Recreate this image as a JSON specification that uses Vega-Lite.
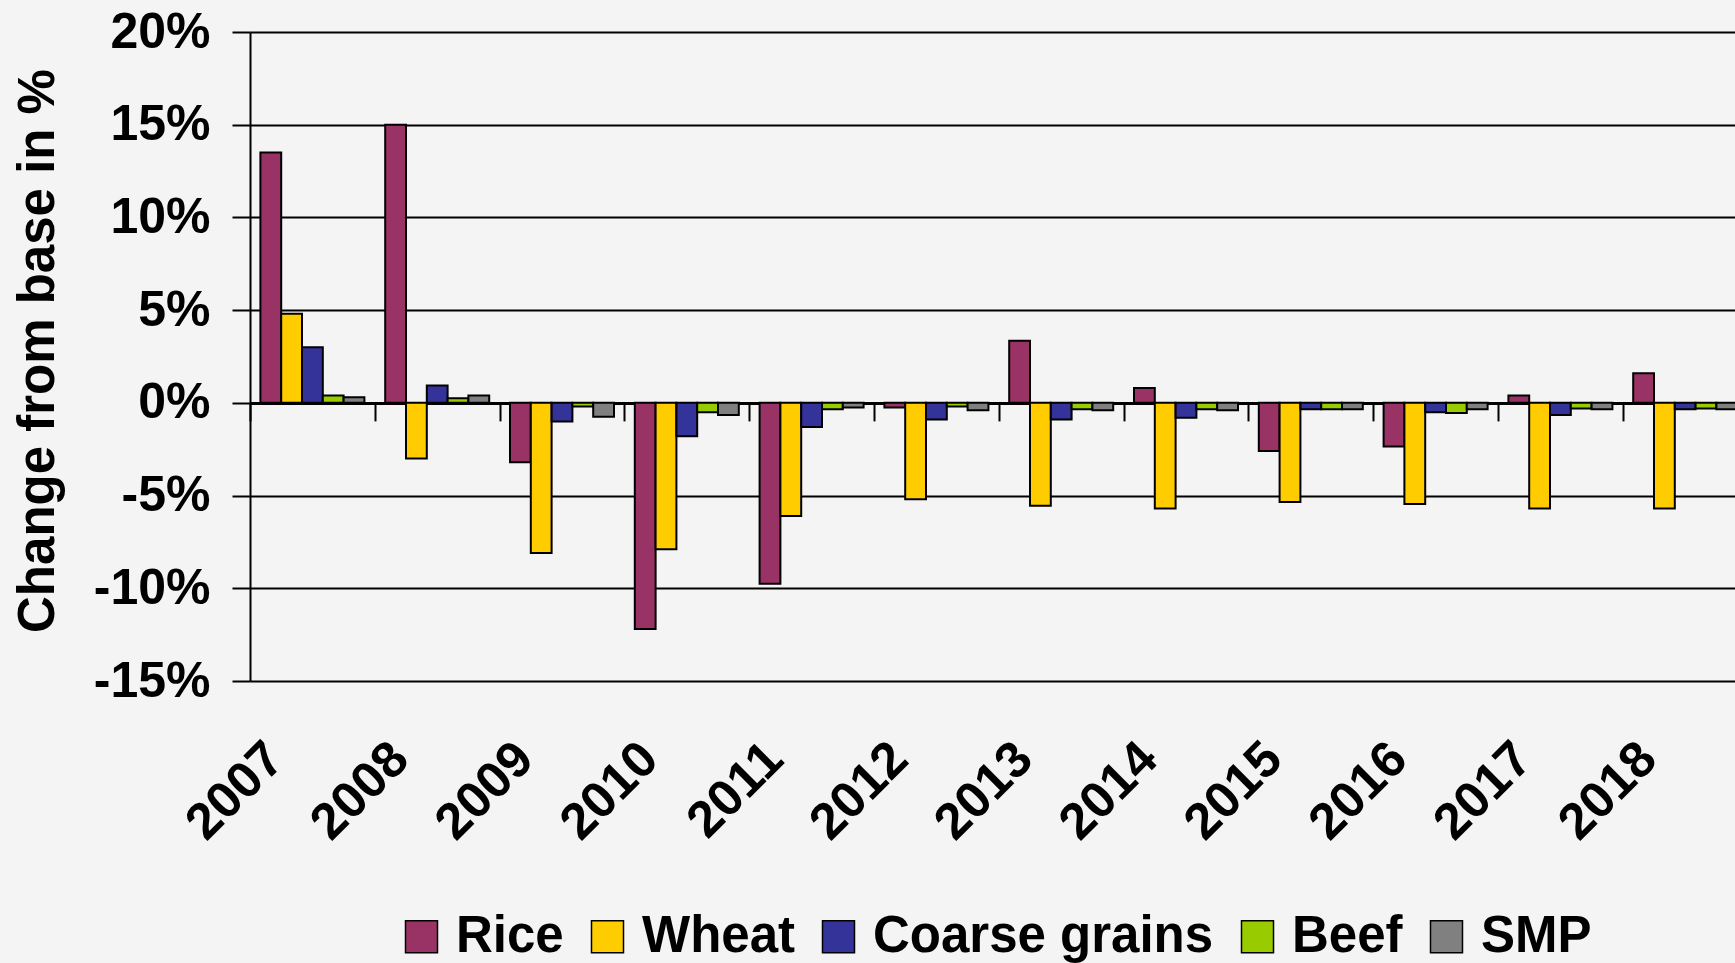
{
  "$schema": "https://vega.github.io/schema/vega-lite/v6.json",
  "width": 1485,
  "height": 649,
  "autosize": {"type": "none"},
  "padding": {"left": 250, "top": 32, "right": 0, "bottom": 282},
  "background": "#f4f4f4",
  "config": {"view": {"stroke": null}, "font": "Liberation Sans"},
  "data": {"values": [
    {"year": "2007", "series": "Rice", "value": 13.5},
    {"year": "2007", "series": "Wheat", "value": 4.8},
    {"year": "2007", "series": "Coarse grains", "value": 3.0},
    {"year": "2007", "series": "Beef", "value": 0.4},
    {"year": "2007", "series": "SMP", "value": 0.3},
    {"year": "2008", "series": "Rice", "value": 15.0},
    {"year": "2008", "series": "Wheat", "value": -3.0},
    {"year": "2008", "series": "Coarse grains", "value": 0.93},
    {"year": "2008", "series": "Beef", "value": 0.25},
    {"year": "2008", "series": "SMP", "value": 0.4},
    {"year": "2009", "series": "Rice", "value": -3.2},
    {"year": "2009", "series": "Wheat", "value": -8.1},
    {"year": "2009", "series": "Coarse grains", "value": -1.0},
    {"year": "2009", "series": "Beef", "value": -0.2},
    {"year": "2009", "series": "SMP", "value": -0.75},
    {"year": "2010", "series": "Rice", "value": -12.2},
    {"year": "2010", "series": "Wheat", "value": -7.9},
    {"year": "2010", "series": "Coarse grains", "value": -1.8},
    {"year": "2010", "series": "Beef", "value": -0.5},
    {"year": "2010", "series": "SMP", "value": -0.65},
    {"year": "2011", "series": "Rice", "value": -9.75},
    {"year": "2011", "series": "Wheat", "value": -6.1},
    {"year": "2011", "series": "Coarse grains", "value": -1.3},
    {"year": "2011", "series": "Beef", "value": -0.35},
    {"year": "2011", "series": "SMP", "value": -0.25},
    {"year": "2012", "series": "Rice", "value": -0.25},
    {"year": "2012", "series": "Wheat", "value": -5.2},
    {"year": "2012", "series": "Coarse grains", "value": -0.9},
    {"year": "2012", "series": "Beef", "value": -0.2},
    {"year": "2012", "series": "SMP", "value": -0.4},
    {"year": "2013", "series": "Rice", "value": 3.35},
    {"year": "2013", "series": "Wheat", "value": -5.55},
    {"year": "2013", "series": "Coarse grains", "value": -0.9},
    {"year": "2013", "series": "Beef", "value": -0.35},
    {"year": "2013", "series": "SMP", "value": -0.4},
    {"year": "2014", "series": "Rice", "value": 0.8},
    {"year": "2014", "series": "Wheat", "value": -5.7},
    {"year": "2014", "series": "Coarse grains", "value": -0.8},
    {"year": "2014", "series": "Beef", "value": -0.35},
    {"year": "2014", "series": "SMP", "value": -0.4},
    {"year": "2015", "series": "Rice", "value": -2.6},
    {"year": "2015", "series": "Wheat", "value": -5.35},
    {"year": "2015", "series": "Coarse grains", "value": -0.35},
    {"year": "2015", "series": "Beef", "value": -0.35},
    {"year": "2015", "series": "SMP", "value": -0.35},
    {"year": "2016", "series": "Rice", "value": -2.35},
    {"year": "2016", "series": "Wheat", "value": -5.45},
    {"year": "2016", "series": "Coarse grains", "value": -0.5},
    {"year": "2016", "series": "Beef", "value": -0.55},
    {"year": "2016", "series": "SMP", "value": -0.35},
    {"year": "2017", "series": "Rice", "value": 0.4},
    {"year": "2017", "series": "Wheat", "value": -5.7},
    {"year": "2017", "series": "Coarse grains", "value": -0.65},
    {"year": "2017", "series": "Beef", "value": -0.3},
    {"year": "2017", "series": "SMP", "value": -0.35},
    {"year": "2018", "series": "Rice", "value": 1.6},
    {"year": "2018", "series": "Wheat", "value": -5.7},
    {"year": "2018", "series": "Coarse grains", "value": -0.35},
    {"year": "2018", "series": "Beef", "value": -0.3},
    {"year": "2018", "series": "SMP", "value": -0.35}
  ]},
  "mark": {"type": "bar", "stroke": "black", "strokeWidth": 2},
  "encoding": {
    "x": {
      "field": "year", "type": "nominal",
      "scale": {"range": [0, 1497.6], "paddingInner": 0, "paddingOuter": 0},
      "axis": {
        "title": null, "orient": "bottom", "offset": -278.1, "tickBand": "extent",
        "ticks": true, "tickSize": 18, "tickWidth": 2, "tickColor": "black",
        "domain": true, "domainColor": "black", "domainWidth": 3,
        "labelAngle": -45, "labelAlign": "right", "labelBaseline": "middle",
        "labelFont": "Liberation Sans", "labelFontSize": 51, "labelFontWeight": "bold", "labelColor": "black",
        "labelPadding": 330, "labelOffset": -37, "labelOverlap": false, "labelBound": false, "grid": false
      }
    },
    "xOffset": {
      "field": "series", "type": "nominal",
      "sort": ["Rice", "Wheat", "Coarse grains", "Beef", "SMP"],
      "scale": {"paddingOuter": 0.5, "paddingInner": 0}
    },
    "y": {
      "field": "value", "type": "quantitative",
      "scale": {"domain": [-15, 20], "nice": false, "zero": false},
      "axis": {
        "title": "Change from base in %", "titleFont": "Liberation Sans", "titleFontSize": 51,
        "titleFontWeight": "bold", "titleColor": "black", "titlePadding": 29, "titleY": 318.5,
        "values": [-15, -10, -5, 0, 5, 10, 15, 20],
        "labelExpr": "datum.value + '%'",
        "labelFont": "Liberation Sans", "labelFontSize": 50, "labelFontWeight": "bold", "labelColor": "black",
        "labelPadding": 22, "tickSize": 18, "tickColor": "black", "tickWidth": 2,
        "domainColor": "black", "domainWidth": 2,
        "grid": true, "gridColor": "black", "gridWidth": 2, "gridOpacity": 1
      }
    },
    "color": {
      "field": "series", "type": "nominal",
      "scale": {
        "domain": ["Rice", "Wheat", "Coarse grains", "Beef", "SMP"],
        "range": ["#993366", "#ffcc00", "#333399", "#99cc00", "#808080"]
      },
      "legend": {
        "orient": "none", "legendX": 146, "legendY": 879, "direction": "horizontal", "columns": 5,
        "title": null, "symbolType": "square", "symbolSize": 1024,
        "symbolStrokeColor": "black", "symbolStrokeWidth": 1.5, "symbolOpacity": 1,
        "labelFont": "Liberation Sans", "labelFontSize": 51, "labelFontWeight": "bold", "labelColor": "black",
        "labelOffset": 9, "columnPadding": 18, "labelLimit": 600, "padding": 0
      }
    }
  }
}
